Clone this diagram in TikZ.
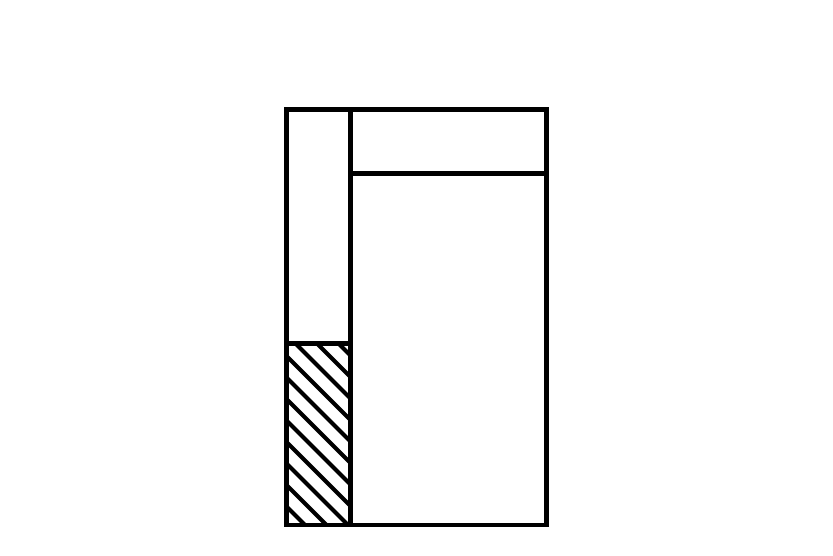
\documentclass[tikz,border=0pt]{standalone}
\begin{document}
\begin{tikzpicture}[x=1pt,y=-1pt,
  outer/.style={line width=4.5pt},
  inner/.style={line width=4.2pt},
  hatchline/.style={line width=4.2pt}]
\useasboundingbox (0,0) rectangle (833,555);
\coordinate (tl) at (286.5,109.5);
\coordinate (br) at (546.5,525);
\coordinate (vt) at (350.5,109.5);
\coordinate (vb) at (350.5,525);
\coordinate (hl) at (350.5,173.5);
\coordinate (hr) at (546.5,173.5);
\coordinate (sl) at (286.5,343.5);
\coordinate (sr) at (350.5,343.5);
\begin{scope}
  \clip (sl) rectangle (vb);
  \foreach \k in {-10,...,3}{
    \pgfmathsetmacro{\c}{-48+21.5*\k}
    \draw[hatchline] (\c+250,250) -- (\c+600,600);
  }
\end{scope}
\draw[inner] (vt) -- (vb);
\draw[inner] (hl) -- (hr);
\draw[inner] (sl) -- (sr);
\draw[outer] (tl) rectangle (br);
\end{tikzpicture}
\end{document}
